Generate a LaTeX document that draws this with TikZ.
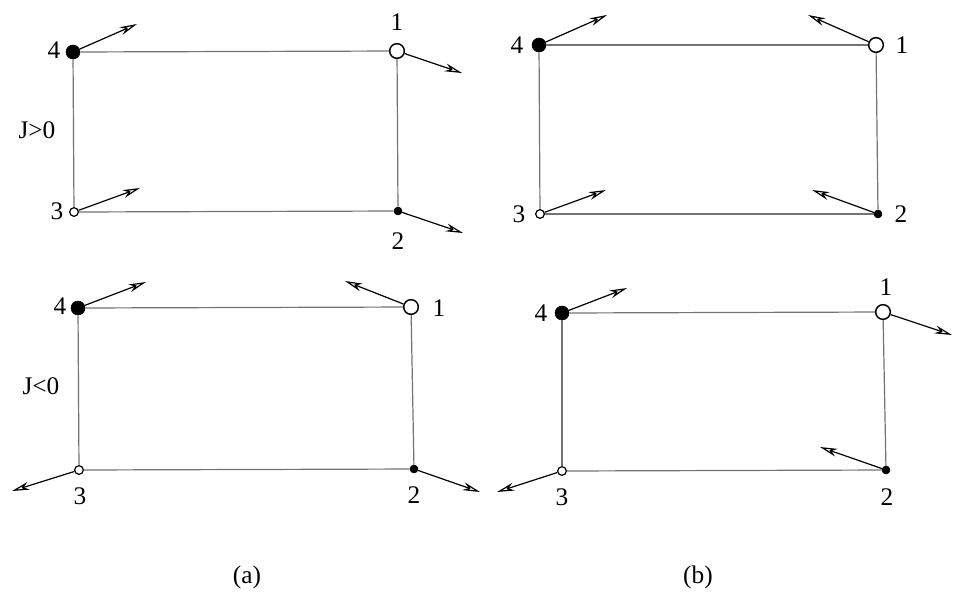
\documentclass[tikz,border=0pt]{standalone}
\usepackage{fontspec}
\setmainfont{Liberation Serif}
\usetikzlibrary{arrows.meta}
\begin{document}
\begin{tikzpicture}[x=0.75pt,y=-0.75pt,
    every node/.style={font=\fontsize{19}{22}\selectfont},
    bigfull/.style={circle,draw,fill=black,minimum size=10.5pt,inner sep=0pt},
    bigopen/.style={circle,draw,line width=1.1pt,fill=white,minimum size=11pt,inner sep=0pt},
    smallfull/.style={circle,draw,fill=black,minimum size=6pt,inner sep=0pt},
    smallopen/.style={circle,draw,line width=0.9pt,fill=white,minimum size=6.5pt,inner sep=0pt},
    bond/.style={draw=black!55,line width=0.9pt},
    spin/.style={draw=black,line width=0.9pt,-{Stealth[open,length=13pt,width=6pt,inset=4pt]}}]
  \useasboundingbox (0,0) rectangle (959,601);
  % (a) J>0
  \draw
    (397,51) node[bigopen] (a1){}
    (398,211) node[smallfull] (a2){}
    (74,212) node[smallopen] (a3){}
    (73,52) node[bigfull] (a4){};
  % (a) J<0
  \draw
    (411,307) node[bigopen] (c1){}
    (414,469) node[smallfull] (c2){}
    (79,470) node[smallopen] (c3){}
    (78,308) node[bigfull] (c4){};
  % (b) top
  \draw
    (876,45) node[bigopen] (b1){}
    (878,214) node[smallfull] (b2){}
    (540,214) node[smallopen] (b3){}
    (539,45) node[bigfull] (b4){};
  % (b) bottom
  \draw
    (883,312) node[bigopen] (d1){}
    (886,470) node[smallfull] (d2){}
    (562,471) node[smallopen] (d3){}
    (562,313) node[bigfull] (d4){};
  % arrow tips
  \coordinate (a1s) at (462,73);
  \coordinate (a2s) at (463,233);
  \coordinate (a3s) at (140,188);
  \coordinate (a4s) at (137,24);
  \coordinate (c1s) at (345,281);
  \coordinate (c2s) at (480,492);
  \coordinate (c3s) at (12,491);
  \coordinate (c4s) at (146,282);
  \coordinate (b1s) at (808,15);
  \coordinate (b2s) at (812,190);
  \coordinate (b3s) at (606,190);
  \coordinate (b4s) at (607,15);
  \coordinate (d1s) at (952,335);
  \coordinate (d2s) at (820,447);
  \coordinate (d3s) at (497,492);
  \coordinate (d4s) at (627,288);
  \begin{scope}
    \foreach \p in {a,b,c,d}{
      \path[bond] (\p4) to (\p1);
      \path[bond] (\p1) to (\p2);
      \path[bond] (\p2) to (\p3);
      \path[bond] (\p3) to (\p4);
    }
  \end{scope}
  \begin{scope}[spin]
    \foreach \p in {a,b,c,d}{
      \foreach \i in {1,2,3,4}{
        \draw (\p\i) to (\p\i s);
      }
    }
  \end{scope}
  % site labels
  \node (la1) at (397,22) {1};
  \node (la2) at (398,241) {2};
  \node (la3) at (57,211) {3};
  \node (la4) at (54,50) {4};
  \node (lc1) at (439,308) {1};
  \node (lc2) at (414,495) {2};
  \node (lc3) at (80,496) {3};
  \node (lc4) at (60,306) {4};
  \node (lb1) at (902,45) {1};
  \node (lb2) at (901,214) {2};
  \node (lb3) at (519,214) {3};
  \node (lb4) at (517,45) {4};
  \node (ld1) at (886,287) {1};
  \node (ld2) at (887,497) {2};
  \node (ld3) at (562,497) {3};
  \node (ld4) at (541,313) {4};
  \node (jpos) at (37,130) {J>0};
  \node (jneg) at (41,386) {J<0};
  \node (capa) at (247,577) {(a)};
  \node (capb) at (698,577) {(b)};
\end{tikzpicture}
\end{document}
